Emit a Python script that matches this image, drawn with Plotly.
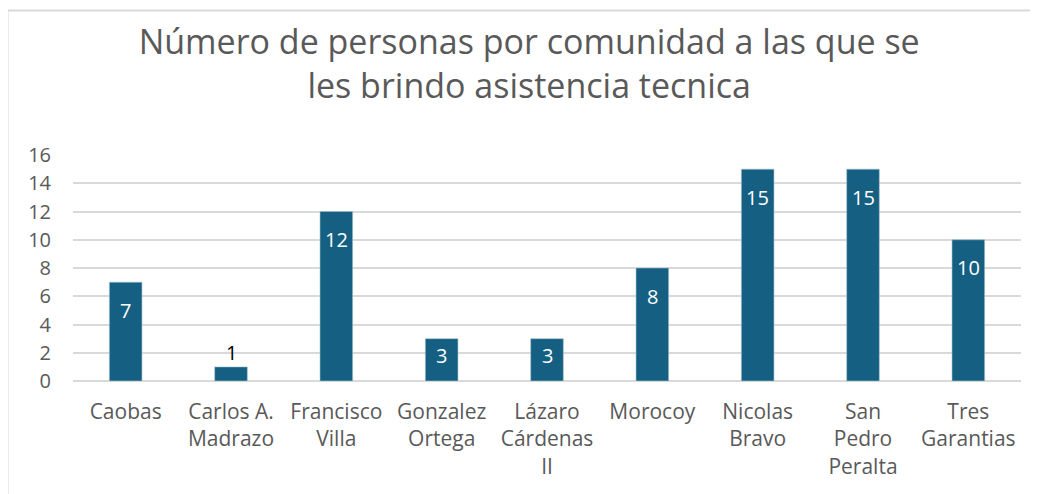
import plotly.graph_objects as go

categories = ["Caobas", "Carlos A.<br>Madrazo", "Francisco<br>Villa", "Gonzalez<br>Ortega",
              "Lázaro<br>Cárdenas<br>II", "Morocoy", "Nicolas<br>Bravo", "San<br>Pedro<br>Peralta",
              "Tres<br>Garantias"]
values = [7, 1, 12, 3, 3, 8, 15, 15, 10]
y_ticks = [0, 2, 4, 6, 8, 10, 12, 14, 16]

FONT = "Open Sans"
GRAY = "#595959"
BAR = "#156082"

# page body has an 8px default margin, so the figure is 8px smaller than the window
W, H = 1030, 486
L, R, T, B = 65, 17, 147, 113
PW, PH = W - L - R, H - T - B
YMAX = 16
px_per_unit = PH / YMAX

fig = go.Figure()
fig.add_trace(go.Bar(x=categories, y=values, marker=dict(color=BAR, line=dict(color="#a9c4d2", width=0.6)),
                     width=0.31, hoverinfo="skip"))

annotations = []
for c, v in zip(categories, values):
    if v >= 2:
        shift = -min(28, v * px_per_unit * 0.4)
        annotations.append(dict(x=c, y=v, xref="x", yref="y", text=str(v), showarrow=False,
                                yshift=shift, font=dict(family=FONT, size=20, color="white")))
    else:
        annotations.append(dict(x=c, y=v, xref="x", yref="y", text=str(v), showarrow=False,
                                yshift=14, font=dict(family=FONT, size=20, color="black")))

bx = (7.5 - 8 - L) / PW
by = (T + PH - (10.5 - 8)) / PH  # top border, relative to plot bottom

fig.update_layout(
    width=W, height=H,
    margin=dict(l=L, r=R, t=T, b=B),
    paper_bgcolor="white", plot_bgcolor="white",
    title=dict(text="Número de personas por comunidad a las que se<br>les brindo asistencia tecnica",
               x=0.506, xanchor="center", y=0.905, yanchor="top",
               font=dict(family=FONT, size=34, color=GRAY)),
    showlegend=False,
    bargap=0.69,
    annotations=annotations,
    xaxis=dict(type="category", showgrid=False, showline=False, ticks="",
               ticklabelstandoff=16,
               tickfont=dict(family=FONT, size=21, color=GRAY)),
    yaxis=dict(range=[0, YMAX], tickvals=y_ticks, showgrid=True, gridcolor="#d9d9d9", gridwidth=1.5,
               zeroline=True, zerolinecolor="#d9d9d9", zerolinewidth=1.5, showline=False, ticks="",
               ticklabelstandoff=21,
               tickfont=dict(family=FONT, size=20, color=GRAY)),
    shapes=[
        dict(type="line", xref="paper", yref="paper", x0=bx, x1=1.2, y0=by, y1=by,
             line=dict(color="#d9d9d9", width=2)),
        dict(type="line", xref="paper", yref="paper", x0=bx, x1=bx, y0=-0.6, y1=by,
             line=dict(color="#d9d9d9", width=2)),
    ],
)

fig.write_html("out.html")
